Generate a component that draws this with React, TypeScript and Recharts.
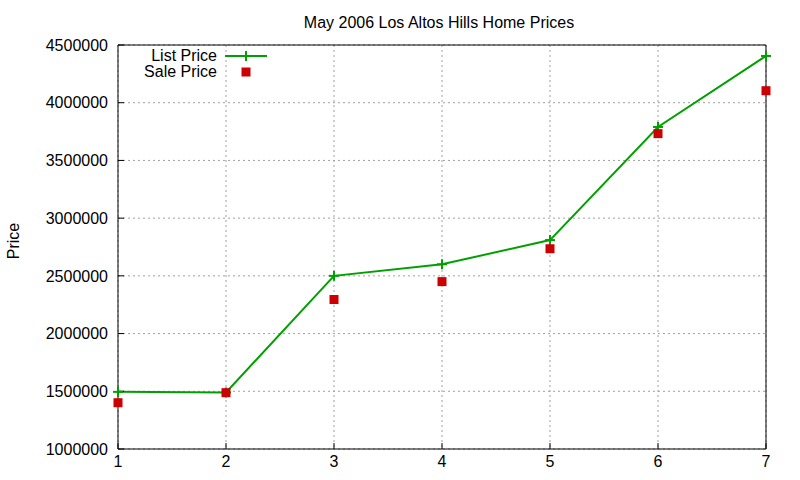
import React from 'react';
import { LineChart, Line, XAxis, YAxis, CartesianGrid } from 'recharts';

const categories = [1, 2, 3, 4, 5, 6, 7];
const listPrice = [1495000, 1490000, 2500000, 2600000, 2810000, 3790000, 4405000];
const salePrice = [1401000, 1488000, 2295000, 2450000, 2735000, 3732000, 4104000];
const yTicks = [1000000, 1500000, 2000000, 2500000, 3000000, 3500000, 4000000, 4500000];
const xTicks = [1, 2, 3, 4, 5, 6, 7];

const TITLE = 'May 2006 Los Altos Hills Home Prices';
const Y_LABEL = 'Price';
const LIST_NAME = 'List Price';
const SALE_NAME = 'Sale Price';

const GREEN = '#00a000';
const RED = '#cc0000';
const FONT = '"Liberation Sans", Arial, Helvetica, sans-serif';

const data = categories.map((x, i) => ({ x, list: listPrice[i], sale: salePrice[i] }));

const PlusDot = (props: any) => {
  const { cx, cy } = props;
  if (cx == null || cy == null) return null;
  return (
    <g>
      <line x1={cx - 5} x2={cx + 5} y1={cy} y2={cy} stroke={GREEN} strokeWidth={2} />
      <line x1={cx} x2={cx} y1={cy - 5} y2={cy + 5} stroke={GREEN} strokeWidth={2} />
    </g>
  );
};

const SquareDot = (props: any) => {
  const { cx, cy } = props;
  if (cx == null || cy == null) return null;
  return <rect x={cx - 4.5} y={cy - 4.5} width={9} height={9} fill={RED} />;
};

const tickStyle = { fill: '#000', fontSize: 16, fontFamily: FONT };

export default function App() {
  return (
    <div style={{ position: 'absolute', left: 0, top: 0, width: 800, height: 480, background: '#fff' }}>
      <LineChart width={800} height={480} data={data} margin={{ top: 0, right: 0, bottom: 0, left: 0 }}>
        <CartesianGrid stroke="#a0a0a0" strokeDasharray="2 3" strokeWidth={1} />
        <XAxis
          dataKey="x"
          type="number"
          domain={[1, 7]}
          ticks={xTicks}
          height={31}
          tickSize={-6}
          tickMargin={13}
          stroke="#000"
          tick={tickStyle}
          interval={0}
        />
        <XAxis
          xAxisId="t"
          orientation="top"
          dataKey="x"
          type="number"
          domain={[1, 7]}
          ticks={xTicks}
          height={45}
          tickSize={-6}
          stroke="#000"
          tick={false}
        />
        <YAxis
          type="number"
          domain={[1000000, 4500000]}
          ticks={yTicks}
          width={118}
          tickSize={-6}
          tickMargin={16}
          stroke="#000"
          tick={tickStyle}
          interval={0}
        />
        <YAxis
          yAxisId="r"
          orientation="right"
          type="number"
          domain={[1000000, 4500000]}
          ticks={yTicks}
          width={34}
          tickSize={-6}
          stroke="#000"
          tick={false}
        />
        <Line
          dataKey="list"
          stroke={GREEN}
          strokeWidth={2}
          dot={<PlusDot />}
          activeDot={false}
          isAnimationActive={false}
          type="linear"
        />
        <Line
          dataKey="sale"
          stroke="none"
          strokeOpacity={0}
          dot={<SquareDot />}
          activeDot={false}
          isAnimationActive={false}
          type="linear"
        />
      </LineChart>
      <svg
        width={800}
        height={480}
        style={{ position: 'absolute', left: 0, top: 0, pointerEvents: 'none' }}
        fontFamily={FONT}
        fontSize={16}
      >
        <text x={439} y={28} textAnchor="middle" fill="#000">{TITLE}</text>
        <text x={19} y={241} textAnchor="middle" fill="#000" transform="rotate(-90 19 241)">{Y_LABEL}</text>
        <text x={217} y={61} textAnchor="end" fill="#000">{LIST_NAME}</text>
        <line x1={225} x2={267} y1={56} y2={56} stroke={GREEN} strokeWidth={2} />
        <PlusDot cx={246} cy={56} />
        <text x={217} y={77} textAnchor="end" fill="#000">{SALE_NAME}</text>
        <SquareDot cx={246} cy={72} />
      </svg>
    </div>
  );
}
